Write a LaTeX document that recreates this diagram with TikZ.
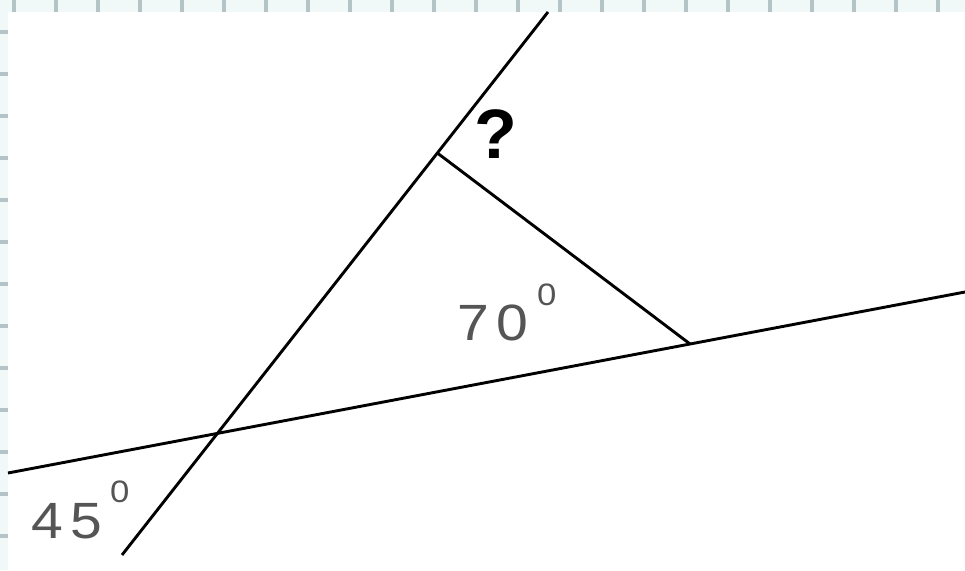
\documentclass[tikz,border=0pt]{standalone}
\usepackage{fontspec}
\usepackage{graphicx}
\setmainfont{Liberation Sans}
\usetikzlibrary{calc}
\definecolor{bandbg}{HTML}{F0F8F8}
\definecolor{tickc}{HTML}{B4C4C6}
\definecolor{numgray}{HTML}{555555}
\tikzset{
  geoline/.style={line width=2.9pt, black, line cap=butt},
  numlabel/.style={inner sep=0pt, text=numgray, font=\fontsize{51}{51}\selectfont, anchor=base west},
  deglabel/.style={inner sep=0pt, text=numgray, font=\fontsize{31}{31}\selectfont, anchor=base west},
  qlabel/.style={inner sep=0pt, font=\bfseries\fontsize{70}{70}\selectfont, anchor=base west},
}
\begin{document}
\begin{tikzpicture}[x=1pt,y=-1pt]
\useasboundingbox (0,0) rectangle (965,570);
\fill[white] (0,0) rectangle (965,570);
% border bands
\fill[bandbg] (0,0) rectangle (965,12);
\fill[bandbg] (0,0) rectangle (8,570);
\foreach \x in {12,54,...,965} \fill[tickc] (\x,0) rectangle ++(4,12);
\foreach \y in {30,72,...,570} \fill[tickc] (0,\y) rectangle ++(8,4);
% lines
\coordinate (A) at (548,12);
\coordinate (B) at (122,555);
\coordinate (C) at (8,473);
\coordinate (D) at (965,292);
\coordinate (P) at ($(A)!0.2597!(B)$);
\coordinate (Q) at ($(C)!0.7127!(D)$);
\draw[geoline] (A) -- (B);
\draw[geoline] (C) -- (D);
\draw[geoline] (P) -- (Q);
% labels
\node[qlabel] (q) at (474,158) {?};
\node[numlabel] (n70) at (457,340) {\scalebox{1.12}[1]{7}\kern8pt\scalebox{1.12}[1]{0}};
\node[deglabel] (d70) at (537,305) {\scalebox{1.12}[1]{0}};
\node[numlabel] (n45) at (31,538) {\scalebox{1.12}[1]{4}\kern8pt\scalebox{1.12}[1]{5}};
\node[deglabel] (d45) at (110,502) {\scalebox{1.12}[1]{0}};
\end{tikzpicture}
\end{document}
